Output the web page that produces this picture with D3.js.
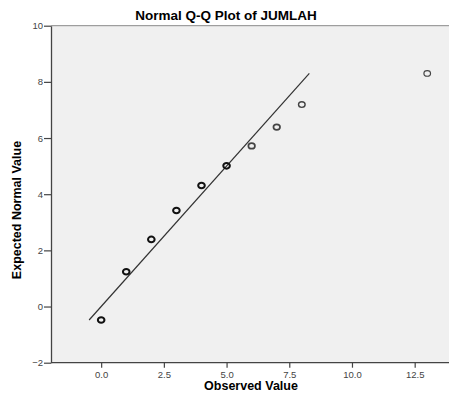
<!DOCTYPE html>
<html><head><meta charset="utf-8">
<script src="https://cdn.jsdelivr.net/npm/d3@7"></script>
<style>body{margin:0;background:#fff}svg{display:block}</style>
</head><body>
<script>
const observed = [0, 1, 2, 3, 4, 5, 6, 7, 8, 13];
const expected = [-0.48, 1.24, 2.39, 3.42, 4.31, 5.01, 5.72, 6.39, 7.19, 8.30];
const weight = [2, 2, 2, 2, 2, 2, 1.7, 1.7, 1.4, 1.2];
const xTicks = [0, 2.5, 5, 7.5, 10, 12.5];
const yTicks = [-2, 0, 2, 4, 6, 8, 10];
const refLine = [-0.48, 8.30];

const W = 449, H = 404;
const svg = d3.select("body").append("svg").attr("width", W).attr("height", H);
const x = d3.scaleLinear().domain([-2, 14]).range([51, 452.3]);
const y = d3.scaleLinear().domain([-2, 10]).range([362.7, 25.7]);

svg.append("rect").attr("x", x(-2)).attr("y", y(10)).attr("width", W - x(-2)).attr("height", y(-2) - y(10)).attr("fill", "#f0f0f0");
svg.append("line").attr("x1", x(-2)).attr("x2", W).attr("y1", y(10)).attr("y2", y(10)).attr("stroke", "#888").attr("stroke-width", 1);

const font = "'Liberation Sans', Arial, sans-serif";
const xa = svg.append("g").attr("transform", `translate(0,${y(-2)})`)
  .call(d3.axisBottom(x).tickValues(xTicks).tickFormat(d3.format(".1f")).tickSize(5).tickSizeOuter(0));
const ya = svg.append("g").attr("transform", `translate(${x(-2)},0)`)
  .call(d3.axisLeft(y).tickValues(yTicks).tickFormat(d3.format("d")).tickSize(7).tickSizeOuter(0));
[xa, ya].forEach(g => {
  g.select(".domain").attr("stroke", "#444").attr("stroke-width", 1.3);
  g.selectAll(".tick line").attr("stroke", "#444").attr("stroke-width", 1.2);
  g.selectAll(".tick text").attr("fill", "#444").style("font-family", font).style("font-size", "9.5px");
});
xa.select(".domain").attr("d", `M${x(-2)},0H${W}`);
xa.selectAll(".tick text").attr("dy", "0.9em").attr("y", 7);
ya.selectAll(".tick text").attr("x", -8);

svg.append("line")
  .attr("x1", x(refLine[0])).attr("y1", y(refLine[0]))
  .attr("x2", x(refLine[1])).attr("y2", y(refLine[1]))
  .attr("stroke", "#333").attr("stroke-width", 1.2);

svg.selectAll("ellipse.pt").data(observed).enter().append("ellipse")
  .attr("class", "pt")
  .attr("cx", (d) => x(d)).attr("cy", (d, i) => y(expected[i])).attr("rx", 3.3).attr("ry", 2.8)
  .attr("fill", "none").attr("stroke", (d, i) => weight[i] >= 2 ? "#111" : "#444")
  .attr("stroke-width", (d, i) => weight[i]);

svg.append("text").attr("x", 226).attr("y", 20).attr("text-anchor", "middle")
  .style("font-family", font).style("font-weight", "bold").style("font-size", "13.5px").text("Normal Q-Q Plot of JUMLAH");
svg.append("text").attr("x", 251).attr("y", 390).attr("text-anchor", "middle")
  .style("font-family", font).style("font-weight", "bold").style("font-size", "12.5px").text("Observed Value");
svg.append("text").attr("transform", "translate(21,210) rotate(-90)").attr("text-anchor", "middle")
  .style("font-family", font).style("font-weight", "bold").style("font-size", "12.5px").text("Expected Normal Value");
</script>
</body></html>
